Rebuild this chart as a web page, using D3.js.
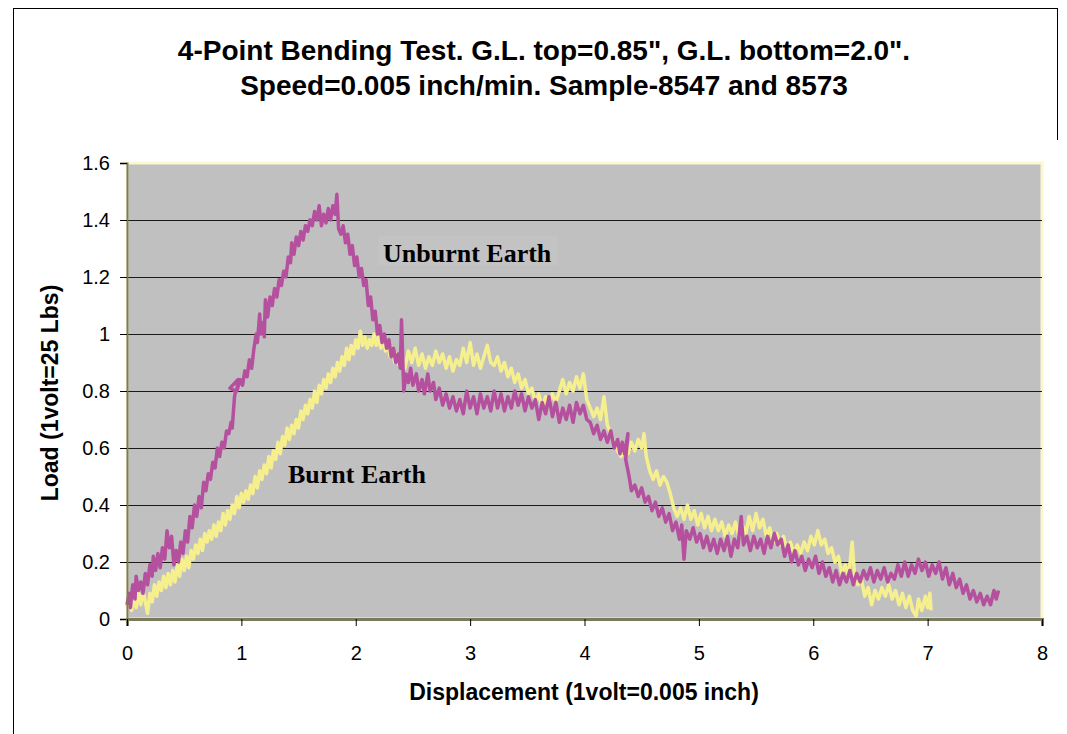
<!DOCTYPE html>
<html><head><meta charset="utf-8">
<script src="https://cdn.jsdelivr.net/npm/d3@7"></script>
<style>html,body{margin:0;padding:0;background:#fff;}svg{display:block;}</style>
</head><body>
<svg id="c" width="1067" height="734"></svg>
<script>
const titleLines = ['4-Point Bending Test. G.L. top=0.85", G.L. bottom=2.0".', 'Speed=0.005 inch/min. Sample-8547 and 8573'];
const xLabel = "Displacement (1volt=0.005 inch)";
const yLabel = "Load (1volt=25 Lbs)";
const xTicks = [0,1,2,3,4,5,6,7,8];
const yTicks = [0,0.2,0.4,0.6,0.8,1,1.2,1.4,1.6];
const seriesNames = ["Burnt Earth","Unburnt Earth"];

const unburnt = [[0.00,0.05],[0.02,0.09],[0.03,0.04],[0.05,0.12],[0.07,0.07],[0.08,0.15],[0.10,0.10],[0.12,0.13],[0.14,0.09],[0.16,0.16],[0.18,0.12],[0.20,0.19],[0.22,0.15],[0.23,0.22],[0.25,0.17],[0.27,0.23],[0.29,0.18],[0.31,0.25],[0.33,0.21],[0.35,0.31],[0.37,0.25],[0.39,0.29],[0.41,0.19],[0.43,0.24],[0.45,0.20],[0.47,0.27],[0.49,0.23],[0.51,0.31],[0.53,0.27],[0.55,0.36],[0.57,0.32],[0.59,0.40],[0.61,0.36],[0.63,0.43],[0.65,0.39],[0.67,0.48],[0.69,0.45],[0.71,0.51],[0.73,0.49],[0.75,0.55],[0.77,0.53],[0.79,0.60],[0.81,0.57],[0.83,0.62],[0.85,0.60],[0.87,0.66],[0.89,0.65],[0.91,0.69],[0.92,0.67],[0.94,0.78],[0.95,0.80],[0.90,0.81],[0.97,0.84],[0.96,0.80],[0.99,0.84],[1.01,0.82],[1.03,0.87],[1.05,0.85],[1.07,0.91],[1.09,0.88],[1.11,0.95],[1.13,1.00],[1.14,0.97],[1.16,1.07],[1.17,1.00],[1.19,1.04],[1.20,0.99],[1.21,1.12],[1.23,1.06],[1.25,1.13],[1.27,1.10],[1.29,1.16],[1.31,1.13],[1.33,1.19],[1.35,1.17],[1.37,1.22],[1.39,1.20],[1.41,1.27],[1.43,1.25],[1.44,1.32],[1.46,1.28],[1.48,1.34],[1.50,1.31],[1.52,1.36],[1.54,1.33],[1.56,1.38],[1.58,1.36],[1.60,1.40],[1.62,1.38],[1.64,1.43],[1.66,1.40],[1.68,1.45],[1.70,1.38],[1.72,1.42],[1.74,1.39],[1.76,1.44],[1.78,1.40],[1.80,1.45],[1.82,1.42],[1.835,1.49],[1.85,1.37],[1.87,1.35],[1.89,1.38],[1.91,1.32],[1.93,1.35],[1.95,1.28],[1.97,1.31],[1.99,1.24],[2.01,1.27],[2.03,1.20],[2.05,1.23],[2.07,1.17],[2.09,1.19],[2.11,1.10],[2.13,1.13],[2.15,1.05],[2.17,1.08],[2.19,1.00],[2.21,1.03],[2.23,0.97],[2.25,1.00],[2.27,0.95],[2.29,0.98],[2.31,0.92],[2.33,0.95],[2.35,0.90],[2.37,0.93],[2.39,0.88],[2.40,1.05],[2.42,0.80],[2.44,0.86],[2.46,0.83],[2.48,0.88],[2.50,0.82],[2.53,0.86],[2.55,0.80],[2.58,0.84],[2.60,0.79],[2.63,0.86],[2.65,0.80],[2.68,0.83],[2.70,0.77],[2.73,0.81],[2.76,0.75],[2.79,0.79],[2.82,0.74],[2.85,0.78],[2.88,0.73],[2.91,0.77],[2.94,0.72],[2.97,0.80],[3.00,0.74],[3.03,0.78],[3.06,0.72],[3.09,0.79],[3.12,0.74],[3.15,0.78],[3.18,0.73],[3.21,0.80],[3.24,0.74],[3.27,0.79],[3.30,0.73],[3.33,0.78],[3.36,0.74],[3.39,0.80],[3.42,0.75],[3.45,0.79],[3.48,0.73],[3.51,0.78],[3.54,0.74],[3.57,0.77],[3.60,0.70],[3.63,0.76],[3.66,0.72],[3.69,0.78],[3.72,0.71],[3.75,0.76],[3.78,0.69],[3.81,0.74],[3.84,0.70],[3.87,0.75],[3.90,0.69],[3.93,0.76],[3.96,0.72],[3.99,0.75],[4.02,0.70],[4.05,0.69],[4.08,0.65],[4.11,0.68],[4.14,0.63],[4.17,0.66],[4.20,0.62],[4.23,0.66],[4.26,0.60],[4.29,0.63],[4.31,0.58],[4.33,0.62],[4.35,0.58],[4.38,0.65],[4.36,0.56],[4.39,0.50],[4.41,0.45],[4.44,0.47],[4.47,0.43],[4.50,0.46],[4.53,0.41],[4.56,0.43],[4.59,0.38],[4.62,0.41],[4.65,0.36],[4.68,0.39],[4.71,0.34],[4.74,0.37],[4.77,0.31],[4.80,0.34],[4.83,0.28],[4.85,0.33],[4.87,0.21],[4.89,0.31],[4.92,0.28],[4.95,0.32],[4.98,0.27],[5.01,0.30],[5.04,0.25],[5.07,0.29],[5.10,0.24],[5.13,0.28],[5.16,0.23],[5.19,0.28],[5.22,0.24],[5.25,0.29],[5.28,0.22],[5.31,0.28],[5.34,0.25],[5.37,0.36],[5.39,0.26],[5.42,0.29],[5.45,0.24],[5.48,0.29],[5.51,0.25],[5.54,0.28],[5.57,0.23],[5.60,0.29],[5.63,0.25],[5.66,0.30],[5.69,0.26],[5.72,0.28],[5.75,0.22],[5.78,0.26],[5.81,0.20],[5.84,0.24],[5.87,0.19],[5.90,0.22],[5.93,0.17],[5.96,0.21],[5.99,0.18],[6.02,0.22],[6.05,0.16],[6.08,0.20],[6.11,0.15],[6.14,0.18],[6.17,0.13],[6.20,0.17],[6.23,0.12],[6.26,0.16],[6.29,0.13],[6.32,0.17],[6.35,0.12],[6.38,0.16],[6.41,0.13],[6.44,0.17],[6.47,0.14],[6.50,0.18],[6.53,0.13],[6.56,0.17],[6.59,0.14],[6.62,0.18],[6.65,0.13],[6.68,0.16],[6.71,0.14],[6.74,0.19],[6.77,0.15],[6.80,0.20],[6.83,0.15],[6.86,0.19],[6.89,0.16],[6.92,0.21],[6.95,0.17],[6.98,0.20],[7.01,0.15],[7.04,0.19],[7.07,0.16],[7.10,0.20],[7.13,0.14],[7.16,0.18],[7.19,0.12],[7.22,0.16],[7.25,0.11],[7.28,0.14],[7.31,0.09],[7.34,0.12],[7.37,0.07],[7.40,0.10],[7.43,0.06],[7.46,0.09],[7.49,0.05],[7.52,0.08],[7.55,0.05],[7.58,0.10],[7.60,0.07],[7.62,0.10]];

const burnt = [[0.00,0.04],[0.02,0.08],[0.04,0.03],[0.06,0.07],[0.08,0.04],[0.10,0.09],[0.12,0.05],[0.14,0.10],[0.16,0.06],[0.18,0.02],[0.20,0.09],[0.22,0.06],[0.24,0.12],[0.26,0.08],[0.28,0.13],[0.30,0.10],[0.32,0.15],[0.34,0.11],[0.36,0.16],[0.38,0.12],[0.40,0.17],[0.42,0.13],[0.44,0.19],[0.46,0.15],[0.48,0.21],[0.50,0.17],[0.52,0.22],[0.54,0.18],[0.56,0.24],[0.58,0.21],[0.60,0.26],[0.62,0.23],[0.64,0.28],[0.66,0.24],[0.68,0.30],[0.70,0.27],[0.72,0.31],[0.74,0.28],[0.76,0.33],[0.78,0.29],[0.80,0.34],[0.82,0.31],[0.84,0.37],[0.86,0.33],[0.88,0.38],[0.90,0.35],[0.92,0.40],[0.94,0.37],[0.96,0.43],[0.98,0.39],[1.00,0.44],[1.02,0.41],[1.04,0.45],[1.06,0.42],[1.08,0.47],[1.10,0.44],[1.12,0.50],[1.14,0.46],[1.16,0.52],[1.18,0.49],[1.20,0.54],[1.22,0.51],[1.24,0.57],[1.26,0.53],[1.28,0.59],[1.30,0.56],[1.32,0.62],[1.34,0.58],[1.36,0.64],[1.38,0.61],[1.40,0.67],[1.42,0.63],[1.44,0.68],[1.46,0.65],[1.48,0.70],[1.50,0.67],[1.52,0.73],[1.54,0.70],[1.56,0.75],[1.58,0.72],[1.60,0.77],[1.62,0.74],[1.64,0.80],[1.66,0.76],[1.68,0.82],[1.70,0.79],[1.72,0.84],[1.74,0.81],[1.76,0.86],[1.78,0.83],[1.80,0.88],[1.82,0.85],[1.84,0.90],[1.86,0.87],[1.88,0.92],[1.90,0.89],[1.92,0.95],[1.94,0.91],[1.96,0.96],[1.98,0.93],[2.00,0.98],[2.02,0.95],[2.04,1.01],[2.06,0.96],[2.08,0.99],[2.10,0.95],[2.12,0.98],[2.14,0.96],[2.16,1.00],[2.18,0.96],[2.20,0.99],[2.22,0.95],[2.24,0.98],[2.26,0.94],[2.28,0.97],[2.30,0.92],[2.32,0.95],[2.34,0.90],[2.36,0.93],[2.38,0.89],[2.40,0.93],[2.43,0.88],[2.46,0.94],[2.49,0.90],[2.52,0.95],[2.55,0.89],[2.58,0.93],[2.61,0.88],[2.64,0.92],[2.67,0.89],[2.70,0.94],[2.73,0.90],[2.76,0.93],[2.79,0.88],[2.82,0.92],[2.85,0.87],[2.88,0.91],[2.91,0.89],[2.94,0.95],[2.97,0.90],[3.00,0.97],[3.03,0.89],[3.06,0.93],[3.09,0.88],[3.12,0.92],[3.15,0.96],[3.18,0.90],[3.21,0.89],[3.24,0.92],[3.27,0.87],[3.30,0.90],[3.33,0.85],[3.36,0.88],[3.39,0.83],[3.42,0.86],[3.45,0.81],[3.48,0.84],[3.51,0.79],[3.54,0.81],[3.57,0.76],[3.60,0.79],[3.63,0.74],[3.66,0.78],[3.69,0.75],[3.72,0.79],[3.75,0.76],[3.78,0.80],[3.81,0.84],[3.84,0.79],[3.87,0.83],[3.90,0.80],[3.93,0.85],[3.96,0.81],[3.99,0.86],[4.02,0.77],[4.05,0.74],[4.08,0.71],[4.11,0.74],[4.14,0.70],[4.17,0.78],[4.20,0.68],[4.23,0.65],[4.26,0.62],[4.29,0.59],[4.32,0.57],[4.35,0.61],[4.38,0.58],[4.41,0.62],[4.44,0.59],[4.47,0.63],[4.50,0.60],[4.52,0.65],[4.54,0.57],[4.57,0.52],[4.60,0.49],[4.63,0.52],[4.66,0.47],[4.69,0.50],[4.72,0.48],[4.75,0.44],[4.78,0.39],[4.81,0.36],[4.84,0.39],[4.87,0.35],[4.90,0.40],[4.93,0.35],[4.96,0.38],[4.99,0.33],[5.02,0.37],[5.05,0.32],[5.08,0.36],[5.11,0.31],[5.14,0.35],[5.17,0.31],[5.20,0.34],[5.23,0.29],[5.26,0.33],[5.29,0.30],[5.32,0.34],[5.35,0.29],[5.38,0.33],[5.41,0.30],[5.44,0.36],[5.47,0.31],[5.50,0.37],[5.53,0.32],[5.56,0.35],[5.59,0.29],[5.62,0.32],[5.65,0.27],[5.68,0.30],[5.71,0.26],[5.74,0.29],[5.77,0.24],[5.80,0.27],[5.83,0.23],[5.86,0.26],[5.89,0.23],[5.92,0.27],[5.95,0.24],[5.98,0.29],[6.01,0.26],[6.04,0.31],[6.07,0.26],[6.10,0.28],[6.13,0.23],[6.16,0.25],[6.19,0.20],[6.22,0.22],[6.25,0.16],[6.28,0.19],[6.31,0.15],[6.34,0.27],[6.36,0.16],[6.39,0.12],[6.42,0.14],[6.45,0.08],[6.48,0.11],[6.51,0.05],[6.54,0.10],[6.57,0.07],[6.60,0.11],[6.63,0.08],[6.66,0.12],[6.69,0.07],[6.72,0.10],[6.75,0.05],[6.78,0.09],[6.81,0.04],[6.84,0.08],[6.87,0.03],[6.90,0.01],[6.92,0.07],[6.95,0.03],[6.98,0.08],[7.00,0.04],[7.02,0.09],[7.03,0.03]];

const colors = {burnt:"#F6EF8E", unburnt:"#B4509E"};

const svg = d3.select("#c");
const W = 1067, H = 734;
const plot = {left:127, right:1042, top:163, bottom:619};
const sans = "Liberation Sans, Arial, sans-serif";
const serif = "Liberation Serif, Times New Roman, serif";

// outer frame
svg.append("line").attr("x1",13.5).attr("x2",13.5).attr("y1",8).attr("y2",H).attr("stroke","#000").attr("stroke-width",1);
svg.append("line").attr("x1",13.5).attr("x2",1057.5).attr("y1",8.5).attr("y2",8.5).attr("stroke","#000").attr("stroke-width",1);
svg.append("line").attr("x1",1057.5).attr("x2",1057.5).attr("y1",8).attr("y2",140).attr("stroke","#000").attr("stroke-width",1);

const x = d3.scaleLinear().domain([0,8]).range([plot.left, plot.right]);
const y = d3.scaleLinear().domain([0,1.6]).range([plot.bottom, plot.top]);

// plot background
svg.append("rect").attr("x",plot.left).attr("y",plot.top).attr("width",plot.right-plot.left).attr("height",plot.bottom-plot.top)
  .attr("fill","#C0C0C0").attr("stroke","#FBF7CF").attr("stroke-width",3);

// gridlines
svg.append("g").selectAll("line").data(yTicks.filter(d=>d>0 && d<1.6)).join("line")
  .attr("x1",plot.left).attr("x2",plot.right).attr("y1",d=>Math.round(y(d))+0.5).attr("y2",d=>Math.round(y(d))+0.5)
  .attr("stroke","#1a1a1a").attr("stroke-width",1.2);

// text box behind "Unburnt Earth"
svg.append("rect").attr("x",378).attr("y",236).attr("width",180).attr("height",29).attr("fill","#C3C3C3");

// lines
const lineGen = d3.line().x(d=>x(d[0])).y(d=>y(d[1]));
svg.append("path").datum(burnt).attr("d",lineGen).attr("fill","none").attr("stroke",colors.burnt).attr("stroke-width",3.5).attr("stroke-linejoin","round");
svg.append("path").datum(unburnt).attr("d",lineGen).attr("fill","none").attr("stroke",colors.unburnt).attr("stroke-width",3.5).attr("stroke-linejoin","round");

// axes
const yAxis = d3.axisLeft(y).tickValues(yTicks).tickSize(7).tickPadding(10).tickFormat(d3.format("~g"));
const gy = svg.append("g").attr("transform",`translate(${plot.left},0)`).call(yAxis);
gy.select(".domain").attr("stroke","#7A7A5C").attr("stroke-width",2);
gy.selectAll(".tick line").attr("stroke","#000");
gy.selectAll(".tick text").attr("font-family",sans).attr("font-size",20).attr("fill","#000");

const xAxis = d3.axisBottom(x).tickValues(xTicks).tickSize(7).tickPadding(20).tickFormat(d3.format("d"));
const gx = svg.append("g").attr("transform",`translate(0,${plot.bottom})`).call(xAxis);
gx.select(".domain").attr("stroke","#7A7A5C").attr("stroke-width",3);
gx.selectAll(".tick line").attr("stroke","#000");
gx.selectAll(".tick text").attr("font-family",sans).attr("font-size",20).attr("fill","#000");

// title
svg.append("g").selectAll("text").data(titleLines).join("text")
  .attr("x",544).attr("y",(d,i)=>60+i*35).attr("text-anchor","middle")
  .attr("font-family",sans).attr("font-weight","bold").attr("font-size",28).text(d=>d);

// axis titles
svg.append("text").attr("x",584).attr("y",700).attr("text-anchor","middle")
  .attr("font-family",sans).attr("font-weight","bold").attr("font-size",23).text(xLabel);
svg.append("text").attr("transform","translate(58,393) rotate(-90)").attr("text-anchor","middle")
  .attr("font-family",sans).attr("font-weight","bold").attr("font-size",23).text(yLabel);

// annotations
svg.append("text").attr("x",383).attr("y",262).attr("font-family",serif).attr("font-weight","bold").attr("font-size",26).text(seriesNames[1]);
svg.append("text").attr("x",288).attr("y",483).attr("font-family",serif).attr("font-weight","bold").attr("font-size",26).text(seriesNames[0]);
</script>
</body></html>
